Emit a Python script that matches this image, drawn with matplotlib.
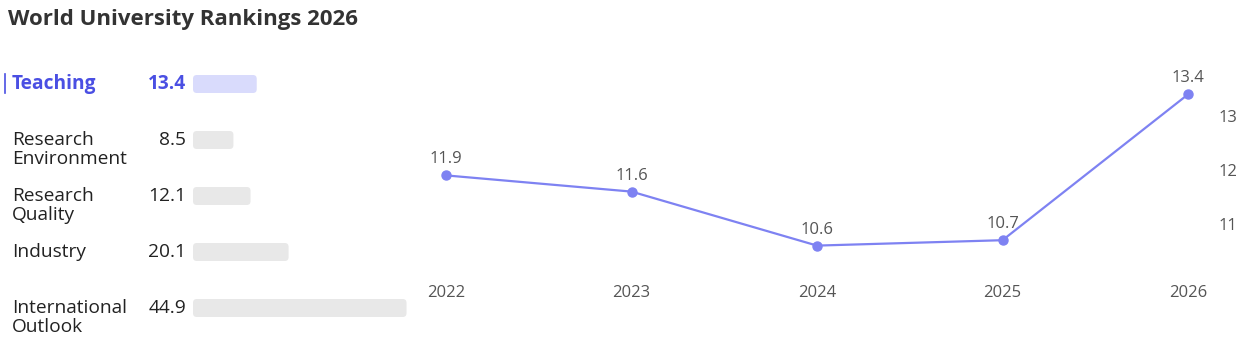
import numpy as np
import matplotlib.pyplot as plt
from matplotlib.patches import FancyBboxPatch
from matplotlib.transforms import blended_transform_factory

plt.rcParams['font.family'] = ['Open Sans', 'DejaVu Sans']

# data
pillars = ['Teaching', 'Research\nEnvironment', 'Research\nQuality', 'Industry', 'International\nOutlook']
scores = [13.4, 8.5, 12.1, 20.1, 44.9]
years = [2022, 2023, 2024, 2025, 2026]
teaching_hist = [11.9, 11.6, 10.6, 10.7, 13.4]
yticks = [11, 12, 13]

W, H = 1255, 341
fig = plt.figure(figsize=(W / 100, H / 100), dpi=100)

def px_axes(x0, y0, x1, y1):
    return fig.add_axes([x0 / W, 1 - y1 / H, (x1 - x0) / W, (y1 - y0) / H])

fig.text(8 / W, 1 - 19 / H, 'World University Rankings 2026', fontsize=16, fontweight='bold',
         color='#333333', va='center', ha='left')

blue = '#4a4fe3'
line_c = '#7e82f2'
fs = 13.8

# left bar panel
axb = px_axes(193, 56, 407, 336)
axb.set_xlim(0, 45)
axb.set_ylim(4.5, -0.5)
axb.axis('off')
bh = 18 / 56
for i, v in enumerate(scores):
    fc = '#d9dbfc' if i == 0 else '#e8e8e8'
    p = FancyBboxPatch((0, i - bh / 2), v, bh, boxstyle='round,pad=0,rounding_size=0.8',
                       mutation_aspect=0.085, fc=fc, ec='none')
    axb.add_patch(p)
    col = blue if i == 0 else '#222222'
    fw = 'bold' if i == 0 else 'normal'
    axb.annotate(f'{v}', xy=(0, i), xytext=(-7, 0), textcoords='offset pixels',
                 ha='right', va='center', fontsize=fs, color=col, fontweight=fw)
    tr = blended_transform_factory(fig.transFigure, axb.transData)
    first, *rest = pillars[i].split('\n')
    axb.text(12 / W, i, first, transform=tr, ha='left', va='center', fontsize=fs, color=col, fontweight=fw)
    if rest:
        axb.annotate(rest[0], xy=(12 / W, i), xycoords=tr, xytext=(0, -19), textcoords='offset pixels',
                     ha='left', va='center', fontsize=fs, color=col)
fig.add_artist(plt.Line2D([5 / W, 5 / W], [1 - 74 / H, 1 - 93 / H], color=blue, lw=1.2))

# line chart
axl = px_axes(446, 79, 1188, 284)
axl.plot(years, teaching_hist, color=line_c, lw=1.6, marker='o', ms=6.5, clip_on=False)
for x, y in zip(years, teaching_hist):
    axl.annotate(f'{y}', xy=(x, y), xytext=(0, 16), textcoords='offset pixels',
                 ha='center', va='center', fontsize=12, color='#555555')
axl.set_xlim(2022, 2026)
axl.set_ylim(11 - 60 / 54, 13 + 37 / 54)
axl.set_xticks(years)
axl.set_xticklabels([str(y) for y in years])
axl.set_yticks(yticks)
axl.yaxis.tick_right()
axl.tick_params(axis='both', length=0, labelsize=12, labelcolor='#555555')
axl.tick_params(axis='x', pad=1)
axl.tick_params(axis='y', pad=22)
for s in axl.spines.values():
    s.set_visible(False)

fig.savefig('out.png', dpi=100)
